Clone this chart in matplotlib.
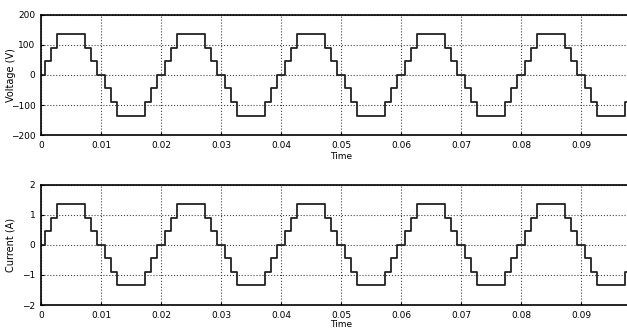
import numpy as np
import matplotlib.pyplot as plt

# one period (20 ms) of the 7-level staircase, switching instants and levels
period = 0.02
n_periods = 5
step_times = [0.0, 0.0006, 0.0017, 0.0027, 0.0074, 0.0083, 0.0094,
              0.0100, 0.0106, 0.0117, 0.0127, 0.0174, 0.0183, 0.0194]
volt_levels = [0, 45, 90, 135, 90, 45, 0, 0, -45, -90, -135, -90, -45, 0]
curr_levels = [0, 0.45, 0.9, 1.35, 0.9, 0.45, 0, 0, -0.45, -0.9, -1.35, -0.9, -0.45, 0]

x_ticks = [0, 0.01, 0.02, 0.03, 0.04, 0.05, 0.06, 0.07, 0.08, 0.09]
x_labels = ['0', '0.01', '0.02', '0.03', '0.04', '0.05', '0.06', '0.07', '0.08', '0.09']
v_ticks = [-200, -100, 0, 100, 200]
i_ticks = [-2, -1, 0, 1, 2]

t = np.concatenate([np.array(step_times) + k * period for k in range(n_periods)] + [[n_periods * period]])
v = np.array(volt_levels * n_periods + [0])
i = np.array(curr_levels * n_periods + [0])

plt.rcParams['font.family'] = ['Liberation Sans Narrow', 'DejaVu Sans']

fig = plt.figure(figsize=(6.27, 3.31), dpi=100)
ax1 = fig.add_axes([0.0654, 0.592, 0.957, 0.363])
ax2 = fig.add_axes([0.0654, 0.0785, 0.957, 0.363])

for ax, y, ticks, lab in [(ax1, v, v_ticks, 'Voltage (V)'), (ax2, i, i_ticks, 'Current (A)')]:
    ax.step(t, y, where='post', color='#222222', lw=1.3)
    ax.set_xlim(0, 0.1)
    ax.set_ylim(ticks[0], ticks[-1])
    ax.set_xticks(x_ticks)
    ax.set_xticklabels(x_labels)
    ax.set_yticks(ticks)
    ax.grid(True, color='#444444', ls=':', lw=0.8)
    ax.tick_params(labelsize=6.5, length=2, direction='in', pad=4)
    ax.set_ylabel(lab, fontsize=7)
    ax.yaxis.set_label_coords(-0.042, 0.5)
    for s in ax.spines.values():
        s.set_linewidth(1.2)

ax1.set_xlabel('Time', fontsize=6.5, labelpad=2)
ax2.set_xlabel('Time', fontsize=6.5, labelpad=0)

fig.savefig('out.png', dpi=100)
